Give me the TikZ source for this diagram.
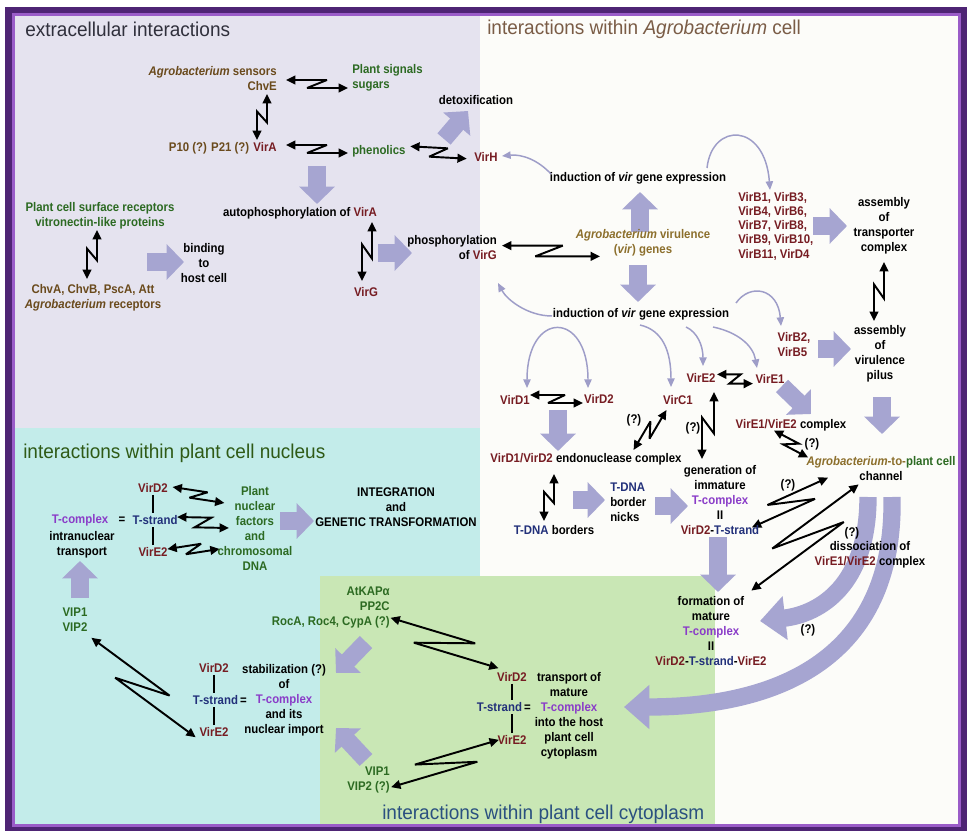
\documentclass[tikz,border=0pt]{standalone}
\usepackage{fontspec}
\newfontfamily\labfont{Liberation Sans}[FakeStretch=0.91]
\newfontfamily\ttlfont{Liberation Sans}[FakeStretch=0.95]
\usetikzlibrary{arrows.meta,calc}
\definecolor{vred}{HTML}{761C22}
\definecolor{brn}{HTML}{6A4A1C}
\definecolor{olv}{HTML}{8C6F2C}
\definecolor{pgreen}{HTML}{2C6A22}
\definecolor{tpurple}{HTML}{8A3CC8}
\definecolor{tnavy}{HTML}{22307A}
\definecolor{lavbg}{HTML}{E5E3EF}
\definecolor{cyanbg}{HTML}{C3ECEA}
\definecolor{greenbg}{HTML}{C9E7B5}
\definecolor{whitebg}{HTML}{FCFCF9}
\definecolor{framedark}{HTML}{4E2474}
\definecolor{framelight}{HTML}{9A5CC8}
\definecolor{fatc}{HTML}{A6A5D1}
\definecolor{curvec}{HTML}{9E9DC8}
\definecolor{tonec}{HTML}{30303C}
\definecolor{ttwoc}{HTML}{7A5C46}
\definecolor{tthreec}{HTML}{2F5A16}
\definecolor{tfourc}{HTML}{2A5080}
% Z-shaped reversible-interaction arrow: A, B, offset, p, q
\newcommand{\zzarrow}[5]{%
  \draw[zarr] ($(#1)!#3!90:(#2)$) -- ($(#1)!#4!(#2)!#3!90:(#2)$)
    -- ($(#1)!#5!(#2)!#3!-90:(#2)$) -- ($(#2)!#3!90:(#1)$);}
\begin{document}
\begin{tikzpicture}[x=0.75pt,y=-0.75pt,
  lab/.style={font=\labfont\bfseries\fontsize{9.4}{11.25}\selectfont, inner sep=0pt, align=center},
  ttl/.style={font=\ttlfont\fontsize{15}{18}\selectfont, inner sep=0pt, anchor=west},
  zarr/.style={draw=black, line width=1.45pt, line join=miter, miter limit=4, {Triangle[length=7pt,width=6.5pt]}-{Triangle[length=7pt,width=6.5pt]}},
  fatarr/.style={draw=fatc, line width=13pt, -{Triangle[length=13pt,width=26pt]}},
  bigarc/.style={draw=fatc, line width=13pt, -{Triangle[length=19pt,width=32pt]}},
  gcurve/.style={draw=curvec, line width=1.1pt, -{Triangle[length=6.5pt,width=5.5pt]}},
  gboth/.style={draw=curvec, line width=1.1pt, {Triangle[length=6.5pt,width=5.5pt]}-{Triangle[length=6.5pt,width=5.5pt]}},
  bar/.style={draw=black, line width=0.9pt, shorten <=1.5pt, shorten >=1.5pt}]
\useasboundingbox (0,0) rectangle (967,831);
% ---------- backgrounds and frame
\fill[white] (0,0) rectangle (967,831);
\fill[framedark] (5,7) rectangle (967,831);
\fill[framelight] (12,13) rectangle (961,827);
\fill[whitebg] (15,16) rectangle (958,824);
\fill[lavbg] (15,16) rectangle (480,428);
\fill[cyanbg] (15,428) rectangle (480,824);
\fill[greenbg] (320,576) rectangle (715,824);
% ---------- titles
\node[ttl, text=tonec] (t1) at (25,29) {extracellular interactions};
\node[ttl, text=ttwoc] (t2) at (487,29) {interactions within \textit{Agrobacterium} cell};
\node[ttl, text=tthreec] (t3) at (23,453) {interactions within plant cell nucleus};
\node[ttl, text=tfourc] (t4) at (382,814) {interactions within plant cell cytoplasm};
% ---------- thick arrows
\coordinate (f1a) at (444,139); \coordinate (f1b) at (468,111);
\coordinate (f2a) at (317,166); \coordinate (f2b) at (317,204);
\coordinate (f3a) at (147,262); \coordinate (f3b) at (184,262);
\coordinate (f4a) at (378,253); \coordinate (f4b) at (412,253);
\coordinate (f5a) at (640,232); \coordinate (f5b) at (640,192);
\coordinate (f6a) at (638,265); \coordinate (f6b) at (638,302);
\coordinate (f7a) at (813,226); \coordinate (f7b) at (847,226);
\coordinate (f8a) at (818,349); \coordinate (f8b) at (851,349);
\coordinate (f9a) at (882,397); \coordinate (f9b) at (882,434);
\coordinate (f10a) at (782,386); \coordinate (f10b) at (811,414);
\coordinate (f11a) at (558,410); \coordinate (f11b) at (558,451);
\coordinate (f12a) at (573,500); \coordinate (f12b) at (605,500);
\coordinate (f13a) at (655,506); \coordinate (f13b) at (688,506);
\coordinate (f14a) at (718,537); \coordinate (f14b) at (718,592);
\coordinate (f15a) at (280,521); \coordinate (f15b) at (314,521);
\coordinate (f16a) at (80,598); \coordinate (f16b) at (80,561);
\coordinate (f17a) at (366,642); \coordinate (f17b) at (336,673);
\coordinate (f18a) at (366,760); \coordinate (f18b) at (336,728);
\foreach \a/\b in {f1a/f1b,f2a/f2b,f3a/f3b,f4a/f4b,f5a/f5b,f6a/f6b,f7a/f7b,f8a/f8b,f9a/f9b,f10a/f10b,f11a/f11b,f12a/f12b,f13a/f13b,f14a/f14b,f15a/f15b,f16a/f16b,f17a/f17b,f18a/f18b}
  \draw[fatarr] (\a) -- (\b);
\coordinate (chanA) at (892,497); \coordinate (tportA) at (624,707);
\coordinate (chanB) at (868,497); \coordinate (formB) at (760,621);
\draw[bigarc] (chanA) .. controls (895,650) and (790,707) .. (tportA);
\draw[bigarc] (chanB) .. controls (868,585) and (820,614) .. (formB);
% ---------- thin curved arrows
\coordinate (g1a) at (551,174); \coordinate (g1b) at (502,156);
\coordinate (g2a) at (552,316); \coordinate (g2b) at (498,283);
\coordinate (g3a) at (707,168); \coordinate (g3b) at (770,190);
\coordinate (g4a) at (736,303); \coordinate (g4b) at (781,326);
\coordinate (g5a) at (527,388); \coordinate (g5b) at (588,388);
\coordinate (g6a) at (640,325); \coordinate (g6b) at (671,387);
\coordinate (g7a) at (686,327); \coordinate (g7b) at (703,366);
\coordinate (g8a) at (713,327); \coordinate (g8b) at (757,368);
\draw[gcurve] (g1a) .. controls (538,160) and (522,154) .. (g1b);
\draw[gcurve] (g2a) .. controls (528,316) and (507,300) .. (g2b);
\draw[gcurve] (g3a) .. controls (712,122) and (765,122) .. (g3b);
\draw[gcurve] (g4a) .. controls (750,283) and (778,288) .. (g4b);
\draw[gboth] (g5a) .. controls (527,310) and (588,310) .. (g5b);
\draw[gcurve] (g6a) .. controls (662,330) and (671,350) .. (g6b);
\draw[gcurve] (g7a) .. controls (697,332) and (703,345) .. (g7b);
\draw[gcurve] (g8a) .. controls (737,332) and (753,345) .. (g8b);
% ---------- Z / N interaction arrows
\coordinate (z1a) at (286,84);  \coordinate (z1b) at (348,84);
\coordinate (n1a) at (262,140); \coordinate (n1b) at (262,94);
\coordinate (z2a) at (286,149); \coordinate (z2b) at (348,149);
\coordinate (z3a) at (410,151); \coordinate (z3b) at (467,154);
\coordinate (n2a) at (367,281); \coordinate (n2b) at (367,222);
\coordinate (n3a) at (92,279);  \coordinate (n3b) at (92,230);
\coordinate (z4a) at (502,251); \coordinate (z4b) at (600,251);
\coordinate (n4a) at (879,321); \coordinate (n4b) at (879,262);
\coordinate (z5a) at (530,399); \coordinate (z5b) at (583,399);
\coordinate (z6a) at (717,379); \coordinate (z6b) at (753,379);
\coordinate (z7a) at (637,452); \coordinate (z7b) at (663,408);
\coordinate (n5a) at (708,459); \coordinate (n5b) at (708,392);
\coordinate (n6a) at (549,521); \coordinate (n6b) at (549,474);
\coordinate (z8a) at (772,434); \coordinate (z8b) at (810,454);
\coordinate (z9a) at (749,521); \coordinate (z9b) at (831,484);
\coordinate (z10a) at (745,582); \coordinate (z10b) at (865,493);
\coordinate (z11a) at (86,645); \coordinate (z11b) at (201,730);
\coordinate (z12a) at (388,626); \coordinate (z12b) at (501,660);
\coordinate (z13a) at (389,780); \coordinate (z13b) at (501,747);
\coordinate (z14a) at (172,491); \coordinate (z14b) at (225,499);
\coordinate (z15a) at (177,522); \coordinate (z15b) at (229,523);
\coordinate (z16a) at (168,553); \coordinate (z16b) at (219,545);
\zzarrow{z1a}{z1b}{3pt}{.66}{.34}
\zzarrow{n1a}{n1b}{3.75pt}{.62}{.38}
\zzarrow{z2a}{z2b}{3pt}{.66}{.34}
\zzarrow{z3a}{z3b}{3.5pt}{.66}{.34}
\zzarrow{n2a}{n2b}{3.75pt}{.62}{.38}
\zzarrow{n3a}{n3b}{3.75pt}{.62}{.38}
\zzarrow{z4a}{z4b}{4pt}{.62}{.34}
\zzarrow{n4a}{n4b}{3.75pt}{.62}{.38}
\zzarrow{z5a}{z5b}{3pt}{.66}{.34}
\zzarrow{z6a}{z6b}{3.5pt}{.66}{.34}
\zzarrow{z7a}{z7b}{3pt}{.65}{.35}
\zzarrow{n5a}{n5b}{4.5pt}{.62}{.38}
\zzarrow{n6a}{n6b}{3.75pt}{.62}{.38}
\zzarrow{z8a}{z8b}{3pt}{.66}{.34}
\zzarrow{z9a}{z9b}{-5.25pt}{.77}{.26}
\zzarrow{z10a}{z10b}{-8pt}{.77}{.28}
\zzarrow{z11a}{z11b}{6.75pt}{.68}{.30}
\zzarrow{z12a}{z12b}{6.4pt}{.75}{.25}
\zzarrow{z13a}{z13b}{-5.6pt}{.77}{.25}
\zzarrow{z14a}{z14b}{3pt}{.66}{.34}
\zzarrow{z15a}{z15b}{3.75pt}{.66}{.34}
\zzarrow{z16a}{z16b}{3pt}{.66}{.34}
% ---------- extracellular labels
\node[lab, anchor=east, align=right, text=brn] (sens) at (277,79) {\textit{Agrobacterium} sensors\\ChvE};
\node[lab, anchor=west, align=left, text=pgreen] (plsig) at (352,78) {Plant signals\\sugars};
\node[lab] (detox) at (476,100) {detoxification};
\node[lab, anchor=east, text=brn] (vira) at (277,148) {P10 (?) P21 (?) \textcolor{vred}{VirA}};
\node[lab, anchor=west, text=pgreen] (phen) at (352,151) {phenolics};
\node[lab, anchor=west, text=vred] (virh) at (474,157) {VirH};
\node[lab] (autop) at (300,213) {autophosphorylation of \textcolor{vred}{VirA}};
\node[lab, text=pgreen] (psr) at (100,216) {Plant cell surface receptors\\vitronectin-like proteins};
\node[lab] (bind) at (204,263) {binding\\to\\host cell};
\node[lab, text=brn] (chva) at (93,298) {ChvA, ChvB, PscA, Att\\\textit{Agrobacterium} receptors};
\node[lab, text=vred] (virg) at (366,292) {VirG};
% ---------- Agrobacterium cell labels
\node[lab, anchor=east, align=right] (phos) at (497,248) {phosphorylation\\of \textcolor{vred}{VirG}};
\node[lab, text=olv] (virul) at (643,243) {\textit{Agrobacterium} virulence\\(\textit{vir}) genes};
\node[lab] (ind1) at (638,178) {induction of \textit{vir} gene expression};
\node[lab] (ind2) at (641,314) {induction of \textit{vir} gene expression};
\node[lab, anchor=west, align=left, text=vred, font=\labfont\bfseries\fontsize{9.4}{10.7}\selectfont] (virb) at (738,226) {VirB1, VirB3,\\VirB4, VirB6,\\VirB7, VirB8,\\VirB9, VirB10,\\VirB11, VirD4};
\node[lab] (trans) at (884,226) {assembly\\of\\transporter\\complex};
\node[lab] (pilus) at (880,354) {assembly\\of\\virulence\\pilus};
\node[lab, align=left, text=vred] (virb2) at (794,345) {VirB2,\\VirB5};
\node[lab, text=vred] (vire2) at (701,378) {VirE2};
\node[lab, text=vred] (vire1) at (770,379) {VirE1};
\node[lab, text=vred] (vird1) at (515,400) {VirD1};
\node[lab, text=vred] (vird2) at (599,399) {VirD2};
\node[lab, text=vred] (virc1) at (678,400) {VirC1};
\node[lab] (q1) at (634,420) {(?)};
\node[lab] (q2) at (693,428) {(?)};
\node[lab] (e1e2) at (791,425) {\textcolor{vred}{VirE1/VirE2} complex};
\node[lab] (q3) at (812,444) {(?)};
\node[lab] (endo) at (586,459) {\textcolor{vred}{VirD1/VirD2} endonuclease complex};
\node[lab] (chan) at (881,469) {\textcolor{olv}{\textit{Agrobacterium}-to-}\textcolor{pgreen}{plant cell}\\channel};
\node[lab] (q4) at (788,485) {(?)};
\node[lab] (gen) at (720,500) {generation of\\immature\\\textcolor{tpurple}{T-complex}\\II\\\textcolor{vred}{VirD2}-\textcolor{tnavy}{T-strand}};
\node[lab, anchor=west, align=left] (nicks) at (610,502) {\textcolor{tnavy}{T-DNA}\\border\\nicks};
\node[lab] (tdnab) at (554,530) {\textcolor{tnavy}{T-DNA} borders};
\node[lab] (qd) at (852,533) {(?)};
\node[lab] (diss) at (870,555) {dissociation of\\\textcolor{vred}{VirE1/VirE2} complex};
\node[lab] (form) at (711,631) {formation of\\mature\\\textcolor{tpurple}{T-complex}\\II\\\textcolor{vred}{VirD2}-\textcolor{tnavy}{T-strand}-\textcolor{vred}{VirE2}};
\node[lab] (q5) at (808,630) {(?)};
% ---------- nucleus labels
\node[lab, text=vred] (nd2) at (153,488) {VirD2};
\node[lab, text=tnavy] (nts) at (155,520) {T-strand};
\node[lab, text=vred] (ne2) at (153,552) {VirE2};
\node[lab] (neq) at (122,520) {=};
\node[lab, text=tpurple] (ntc) at (80,520) {T-complex};
\node[lab] (intra) at (82,545) {intranuclear\\transport};
\node[lab, text=pgreen] (pnf) at (255,528) {Plant\\nuclear\\factors\\and\\chromosomal\\DNA};
\node[lab] (integ) at (396,507) {INTEGRATION\\and\\GENETIC TRANSFORMATION};
\draw[bar] (nd2.south) -- (nd2.south |- nts.north);
\draw[bar] (ne2.north) -- (ne2.north |- nts.south);
% ---------- lower left (nuclear import)
\node[lab, text=pgreen] (vip) at (75,620) {VIP1\\VIP2};
\node[lab, text=vred] (sd2) at (214,668) {VirD2};
\node[lab, anchor=east] (sts) at (247,700) {\textcolor{tnavy}{T-strand}\,=};
\node[lab, text=vred] (se2) at (214,732) {VirE2};
\node[lab] (stab) at (284,700) {stabilization (?)\\of\\\textcolor{tpurple}{T-complex}\\and its\\nuclear import};
\draw[bar] (sd2.south) -- (sd2.south |- sts.north);
\draw[bar] (se2.north) -- (se2.north |- sts.south);
% ---------- cytoplasm labels
\node[lab, anchor=east, align=right, text=pgreen] (atk) at (390,607) {AtKAPα\\PP2C\\RocA, Roc4, CypA (?)};
\node[lab, text=vred] (cd2) at (512,677) {VirD2};
\node[lab, anchor=east] (cts) at (531,707) {\textcolor{tnavy}{T-strand}\,=};
\node[lab, text=vred] (ce2) at (512,740) {VirE2};
\node[lab] (tport) at (569,716) {transport of\\mature\\\textcolor{tpurple}{T-complex}\\into the host\\plant cell\\cytoplasm};
\node[lab, anchor=east, align=right, text=pgreen] (cvip) at (390,780) {VIP1\\VIP2 (?)};
\draw[bar] (cd2.south) -- (cd2.south |- cts.north);
\draw[bar] (ce2.north) -- (ce2.north |- cts.south);
\end{tikzpicture}
\end{document}
